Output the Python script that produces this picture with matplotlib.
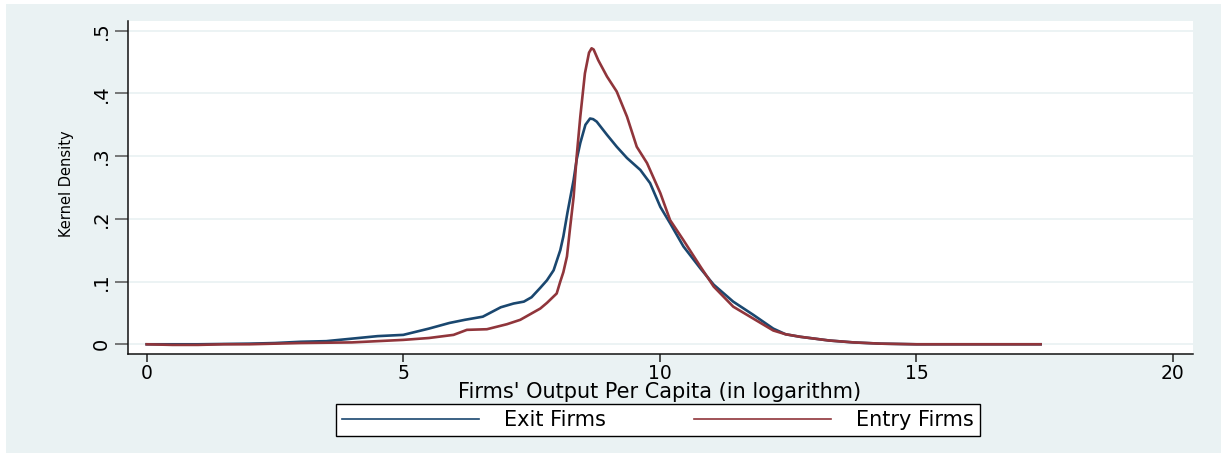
import matplotlib
matplotlib.use("Agg")
import matplotlib.pyplot as plt
from matplotlib.patches import Rectangle
from matplotlib.lines import Line2D

# Kernel density estimates of log output per capita
exit_x = [0.0, 1.0, 2.0, 2.5, 3.0, 3.5, 4.0, 4.5, 5.0, 5.5, 5.9, 6.2, 6.55, 6.9,
          7.15, 7.35, 7.5, 7.67, 7.8, 7.93, 8.06, 8.12, 8.2, 8.32, 8.38, 8.45,
          8.55, 8.64, 8.7, 8.77, 8.97, 9.16, 9.36, 9.62, 9.81, 10.01, 10.2, 10.46,
          10.79, 11.05, 11.43, 11.82, 12.21, 12.45, 12.73, 13.3, 13.77, 14.3,
          15.0, 16.0, 17.42]
exit_y = [0.000, 0.000, 0.001, 0.002, 0.004, 0.005, 0.009, 0.013, 0.015, 0.025,
          0.034, 0.039, 0.044, 0.059, 0.065, 0.068, 0.075, 0.090, 0.102, 0.118,
          0.150, 0.172, 0.210, 0.262, 0.295, 0.321, 0.350, 0.360, 0.359, 0.355,
          0.334, 0.315, 0.297, 0.278, 0.257, 0.219, 0.193, 0.156, 0.121, 0.095,
          0.068, 0.047, 0.025, 0.016, 0.012, 0.006, 0.003, 0.001, 0.000, 0.000,
          0.000]

entry_x = [0.0, 0.5, 1.0, 1.5, 2.0, 3.0, 4.0, 4.5, 5.0, 5.5, 5.98, 6.24, 6.63,
           7.02, 7.28, 7.54, 7.67, 7.80, 7.99, 8.06, 8.12, 8.19, 8.25, 8.32, 8.38,
           8.45, 8.54, 8.62, 8.67, 8.71, 8.80, 8.97, 9.16, 9.36, 9.55, 9.75,
           10.01, 10.2, 10.46, 10.79, 11.05, 11.43, 11.82, 12.21, 12.45, 12.73,
           13.3, 13.77, 14.3, 15.0, 16.0, 17.42]
entry_y = [0.000, -0.001, -0.001, 0.000, 0.000, 0.002, 0.003, 0.005, 0.007, 0.010,
           0.015, 0.023, 0.024, 0.032, 0.039, 0.051, 0.057, 0.066, 0.081, 0.100,
           0.115, 0.140, 0.185, 0.235, 0.300, 0.363, 0.432, 0.465, 0.472, 0.470,
           0.453, 0.427, 0.403, 0.363, 0.315, 0.289, 0.241, 0.198, 0.166, 0.124,
           0.092, 0.060, 0.041, 0.022, 0.016, 0.012, 0.006, 0.003, 0.001, 0.000,
           0.000, 0.000]

x_ticks = [0, 5, 10, 15, 20]
y_ticks = [0, 0.1, 0.2, 0.3, 0.4, 0.5]
y_tick_labels = ["0", ".1", ".2", ".3", ".4", ".5"]
series_labels = ["Exit Firms", "Entry Firms"]

NAVY = "#1a476f"
MAROON = "#90353b"
BG = "#eaf2f3"
FONT = "DejaVu Sans"

W, H = 1221, 453
fig = plt.figure(figsize=(W / 100, H / 100), dpi=100, facecolor="white")
fig.patches.append(Rectangle((6 / W, 0), 1 - 6 / W, 1 - 4 / H,
                             transform=fig.transFigure, facecolor=BG,
                             edgecolor="none", zorder=-10))

ax = fig.add_axes([128 / W, 1 - 354 / H, (1193 - 128) / W, (354 - 21) / H])
ax.set_facecolor("white")
ax.plot(exit_x, exit_y, color=NAVY, lw=1.9, solid_joinstyle="round")
ax.plot(entry_x, entry_y, color=MAROON, lw=1.9, solid_joinstyle="round")

ax.set_xlim(-0.364, 20.39)
ax.set_ylim(-0.0155, 0.5155)
ax.set_xticks(x_ticks)
ax.set_xticklabels([str(t) for t in x_ticks], fontsize=13.5, family=FONT)
ax.set_yticks(y_ticks)
ax.set_yticklabels(y_tick_labels, fontsize=14, family=FONT, rotation=90,
                   va="center")
ax.tick_params(axis="x", length=6, width=1.1, color="#222222", pad=1.0)
ax.tick_params(axis="y", length=9.5, width=1.1, color="#555555", pad=3)
ax.grid(axis="y", color=BG, lw=1.3)
ax.set_axisbelow(True)
for s in ("top", "right"):
    ax.spines[s].set_visible(False)
for s in ("left", "bottom"):
    ax.spines[s].set_color("#111111")
    ax.spines[s].set_linewidth(1.1)

fig.text(660 / W, 1 - 382 / H, "Firms' Output Per Capita (in logarithm)",
         ha="center", va="top", fontsize=15, family=FONT)
fig.text(66 / W, 1 - 184 / H, "Kernel Density", ha="center", va="center",
         rotation=90, fontsize=10.5, family=FONT)

handles = [Line2D([], [], color=NAVY, lw=1.2),
           Line2D([], [], color=MAROON, lw=1.2)]
leg = fig.legend(handles, series_labels, loc="center",
                 bbox_to_anchor=(658 / W, 1 - 420 / H), ncol=2,
                 prop={"family": FONT, "size": 15}, frameon=True,
                 fancybox=False, edgecolor="black", framealpha=1,
                 handlelength=6.6, handletextpad=1.2, columnspacing=4.2,
                 borderpad=0.3, borderaxespad=0.0)
leg.get_frame().set_linewidth(1.0)

fig.savefig("out.png", dpi=100, facecolor=fig.get_facecolor())
